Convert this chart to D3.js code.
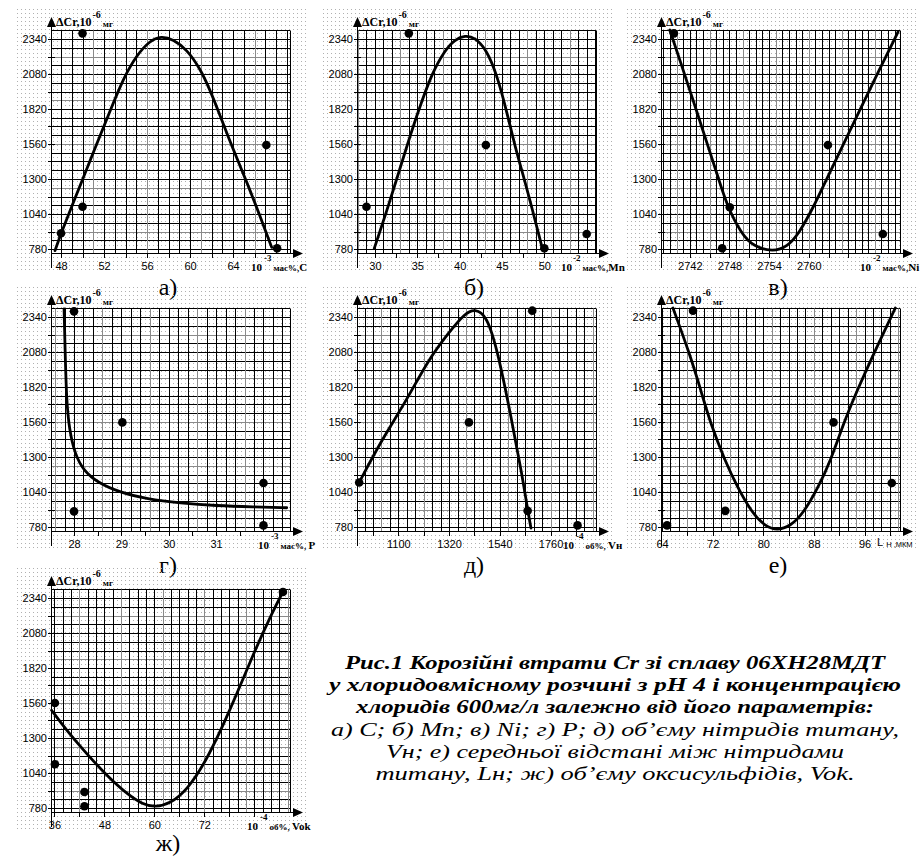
<!DOCTYPE html>
<html><head><meta charset="utf-8">
<script src="https://cdn.jsdelivr.net/npm/d3@7"></script>
<style>
body{margin:0;background:#fff} svg{display:block}
.serif{font-family:"Liberation Serif","Tinos","Times New Roman","Noto Serif","DejaVu Serif",serif}
.sans{font-family:"Liberation Sans","Arimo",Arial,"DejaVu Sans",sans-serif}
</style>
</head><body>
<svg id="c" width="920" height="857"></svg>
<script>
// ---- shared y axis ----
const yTicks = [780, 1040, 1300, 1560, 1820, 2080, 2340];
const yMinor = [910, 1170, 1430, 1690, 1950, 2210];
const yGridStep = 65;

// ---- а) C ----
const xTicksA = [48, 52, 56, 60, 64];
const xMinorA = [50, 54, 58, 62, 66];
const dotsAx = [48, 50, 50, 67.1, 68.1];
const dotsAy = [897, 1094, 2382, 1552, 785];
const curveA = [[47.44,768],[48.0,897],[49.92,1280],[51.22,1540],[52.56,1805],[53.8,2048],[55.04,2221],[56.28,2328],[57.3,2362],[58.45,2337],[59.69,2263],[60.93,2122],[61.86,1961],[62.63,1805],[64.03,1515],[65.27,1280],[66.51,1025],[67.6,792]];

// ---- б) Mn ----
const xTicksB = [30, 35, 40, 45, 50];
const xMinorB = [32.5, 37.5, 42.5, 47.5];
const dotsBx = [29, 34, 43.1, 50, 55];
const dotsBy = [1094, 2382, 1552, 785, 891];
const curveB = [[29.92,785],[31.57,1094],[33.74,1540],[35.12,1805],[36.69,2080],[38.27,2258],[39.45,2337],[40.63,2366],[41.81,2352],[43.19,2258],[44.37,2080],[45.55,1805],[46.54,1540],[47.72,1280],[48.5,1094],[49.76,785]];

// ---- в) Ni ----
const xTicksC = [2742, 2748, 2754, 2760];
const xMinorC = [2745, 2751, 2757, 2763, 2766];
const dotsCx = [2739.6, 2746.9, 2748.05, 2762.9, 2771.2];
const dotsCy = [2382, 785, 1090, 1552, 891];
const curveC = [[2738.97,2407],[2741.21,2080],[2743.03,1805],[2744.79,1540],[2746.5,1280],[2747.71,1094],[2749.78,896],[2751.65,797],[2754.6,760],[2756.76,797],[2758.52,896],[2760.74,1094],[2762.5,1280],[2765.07,1540],[2767.64,1805],[2770.36,2080],[2773.52,2394]];

// ---- г) P ----
const xTicksD = [28, 29, 30, 31];
const xMinorD = [28.5, 29.5, 30.5, 31.5];
const dotsDx = [28, 28, 29.02, 32, 32];
const dotsDy = [2382, 896, 1557, 1107, 792];
const curveD = [[27.79,2400],[27.81,2121],[27.84,1725],[27.9,1503],[28.02,1320],[28.2,1200],[28.5,1110],[28.97,1037],[29.54,988],[30.24,958],[31.01,938],[31.79,929],[32.49,923]];

// ---- д) Vн ----
const xTicksE = [1100, 1320, 1540, 1760];
const xMinorE = [990, 1210, 1430, 1650, 1870];
const dotsEx = [930, 1406, 1680.6, 1660.6, 1877];
const dotsEy = [1111, 1557, 2387, 900, 792];
const curveE = [[930,1111],[1028,1428],[1129,1701],[1230,2023],[1317,2221],[1389,2369],[1432,2400],[1483,2355],[1533,2072],[1591,1577],[1635,1181],[1663,884],[1675,772]];

// ---- е) Lн ----
const xTicksF = [64, 72, 80, 88, 96];
const xMinorF = [68, 76, 84, 92, 100];
const dotsFx = [64.8, 68.9, 74.0, 91.1, 100.3];
const dotsFy = [792, 2387, 900, 1557, 1107];
const curveF = [[65.73,2407],[68.37,2067],[70.16,1792],[71.63,1553],[74.0,1267],[75.85,1082],[78.22,884],[80.32,785],[82.17,755],[84.27,785],[86.38,884],[88.75,1082],[90.59,1267],[92.7,1553],[94.8,1792],[97.44,2067],[100.86,2407]];

// ---- ж) Vok ----
const xTicksG = [36, 48, 60, 72];
const xMinorG = [42, 54, 66, 78, 84];
const dotsGx = [36.1, 36.1, 43.2, 43.2, 90.9];
const dotsGy = [1560, 1105, 899, 793, 2385];
const curveG = [[35.3,1506],[38.9,1357],[43.7,1184],[48.5,1023],[53.3,887],[57.3,805],[60.2,787],[63.8,813],[67.8,911],[72.6,1134],[78.2,1506],[83.8,1927],[88.6,2249],[90.9,2385]];

const letters = ["а)", "б)", "в)", "г)", "д)", "е)", "ж)"];

const caption = [
  "Рис.1 Корозійні втрати Cr зі сплаву 06ХН28МДТ",
  "у хлоридовмісному розчині з pH 4 і концентрацією",
  "хлоридів 600мг/л залежно від його параметрів:"
];
const captionSub = [
  "а) C; б) Mn; в) Ni; г) P; д) об’єму нітридів титану,",
  "Vн; е) середньої відстані між нітридами",
  "титану, Lн; ж) об’єму оксисульфідів, Vok."
];
const captionWidths = [540, 572, 518, 568, 458, 479];

const panels = [
  {ox:0,   oy:0,   dom:[47.16,69.3],   step:1,     anchor:48,   ticks:xTicksA, minor:xMinorA, dx:dotsAx, dy:dotsAy, curve:curveA, unit:{pre:"10", sup:"-3", post:"мас%,", last:"C", x:251}},
  {ox:306, oy:0,   dom:[28.0,56.1],    step:1,     anchor:30,   ticks:xTicksB, minor:xMinorB, dx:dotsBx, dy:dotsBy, curve:curveB, unit:{pre:"10", sup:"-2", post:"мас%,", last:"Mn", x:255, supdx:1}},
  {ox:610, oy:0,   dom:[2737.8,2773.8],step:1,     anchor:2742, ticks:xTicksC, minor:xMinorC, dx:dotsCx, dy:dotsCy, curve:curveC, unit:{pre:"10", sup:"-2", post:"мас%,", last:"Ni", x:250}},
  {ox:0,   oy:278, dom:[27.535,32.56], step:0.2,   anchor:28,   ticks:xTicksD, minor:xMinorD, dx:dotsDx, dy:dotsDy, curve:curveD, unit:{pre:"10", sup:"-3", post:"мас%, ", last:"P", x:258}},
  {ox:306, oy:278, dom:[925,1957],     step:220/6, anchor:1100, ticks:xTicksE, minor:xMinorE, dx:dotsEx, dy:dotsEy, curve:curveE, unit:{pre:"10", sup:"-4", post:"об%, ", last:"Vн", x:257}},
  {ox:610, oy:278, dom:[64,101.6],     step:4/3,   anchor:64,   ticks:xTicksF, minor:xMinorF, dx:dotsFx, dy:dotsFy, curve:curveF, unit:null},
  {ox:0,   oy:559, dom:[35.4,92.6],    step:2,     anchor:36,   ticks:xTicksG, minor:xMinorG, dx:dotsGx, dy:dotsGy, curve:curveG, unit:{pre:"10", sup:"-4", post:"об%, ", last:"Vok", x:247}}
];

const svg = d3.select("#c");
svg.append("rect").attr("width",920).attr("height",857).attr("fill","#fff");
const defs = svg.append("defs");
const pat = defs.append("pattern").attr("id","dots").attr("width",4).attr("height",4)
  .attr("patternUnits","userSpaceOnUse");
pat.append("rect").attr("x",1).attr("y",1).attr("width",1).attr("height",1).attr("fill","#b0b0b0");

const crisp = v => Math.round(v) + 0.5;

panels.forEach((p, i) => {
  const g = svg.append("g").attr("transform", `translate(${p.ox},${p.oy})`);
  g.append("rect").attr("x",14).attr("y",9).attr("width",293).attr("height",264).attr("fill","url(#dots)");

  const x = d3.scaleLinear().domain(p.dom).range([52, 290]);
  const y = d3.scaleLinear().domain([780, 2340]).range([249, 39]);

  // horizontal grid
  const hVals = d3.range(0, 26).map(k => 780 + k * yGridStep);
  g.append("g").selectAll("line").data(hVals).join("line")
    .attr("x1", 52).attr("x2", 290)
    .attr("y1", d => crisp(y(d))).attr("y2", d => crisp(y(d)))
    .attr("stroke", (d, k) => (k % 5 === 2 ? "#8a8a8a" : "#000"))
    .attr("stroke-width", 1);

  // vertical grid
  const kMin = Math.ceil((p.dom[0] - p.anchor) / p.step - 1e-6);
  const kMax = Math.floor((p.dom[1] - p.anchor) / p.step + 1e-6);
  const vVals = d3.range(kMin, kMax + 1).map(k => ({v: p.anchor + k * p.step, k}));
  const top = crisp(y(780 + 25 * yGridStep));
  g.append("g").selectAll("line").data(vVals).join("line")
    .attr("x1", d => crisp(x(d.v))).attr("x2", d => crisp(x(d.v)))
    .attr("y1", top).attr("y2", 253)
    .attr("stroke", d => (((d.k % 5) + 5) % 5 === 3 ? "#8a8a8a" : "#000"))
    .attr("stroke-width", 1);
  g.append("line").attr("x1", 290.5).attr("x2", 290.5).attr("y1", top).attr("y2", 253).attr("stroke", "#000");

  // axes lines + arrows
  g.append("line").attr("x1", 51.5).attr("x2", 51.5).attr("y1", 24).attr("y2", 268).attr("stroke", "#000");
  g.append("line").attr("x1", 51).attr("x2", 296).attr("y1", 253.5).attr("y2", 253.5).attr("stroke", "#000");
  g.append("path").attr("d", "M51.5,17 L47,27 L56,27 Z").attr("fill", "#000");
  g.append("path").attr("d", "M303,253.5 L293,249 L293,258 Z").attr("fill", "#000");

  // y ticks
  g.append("g").selectAll("line").data(yTicks.concat(yMinor)).join("line")
    .attr("x1", 48).attr("x2", 55)
    .attr("y1", d => crisp(y(d))).attr("y2", d => crisp(y(d)))
    .attr("stroke", "#000");
  const ya = g.append("g").attr("transform", "translate(47,0)")
    .call(d3.axisLeft(y).tickValues(yTicks).tickSize(0).tickPadding(0).tickFormat(d3.format("d")));
  ya.select(".domain").remove();
  ya.attr("font-family", null);
  ya.selectAll("text").attr("class", "sans").attr("font-size", 11).attr("fill", "#000");

  // x ticks
  g.append("g").selectAll("line").data(p.ticks.concat(p.minor).filter(d => x(d) > 53 && x(d) < 292)).join("line")
    .attr("x1", d => crisp(x(d))).attr("x2", d => crisp(x(d)))
    .attr("y1", 253).attr("y2", 258)
    .attr("stroke", "#000");
  const xa = g.append("g").attr("transform", "translate(0,258)")
    .call(d3.axisBottom(x).tickValues(p.ticks).tickSize(0).tickPadding(4).tickFormat(d3.format("d")));
  xa.select(".domain").remove();
  xa.attr("font-family", null);
  xa.selectAll("text").attr("class", "sans").attr("font-size", 11).attr("fill", "#000");

  // y axis title
  const yt = g.append("text").attr("class", "serif").attr("x", 56).attr("y", 26).attr("font-weight", "bold").attr("fill", "#000");
  yt.append("tspan").attr("font-size", 12).text("ΔCr,10");
  yt.append("tspan").attr("font-size", 10).attr("dy", -8).attr("dx", 1).text("-6");
  yt.append("tspan").attr("font-size", 9).attr("dy", 9).attr("dx", 2).text("мг");

  // x axis title
  if (p.unit) {
    const u = p.unit;
    const xt = g.append("text").attr("class", "serif").attr("x", u.x).attr("y", 271).attr("font-weight", "bold").attr("fill", "#000");
    xt.append("tspan").attr("font-size", 11).text(u.pre);
    xt.append("tspan").attr("font-size", 9).attr("dy", -10).attr("dx", u.supdx || 2).text(u.sup);
    xt.append("tspan").attr("font-size", 9).attr("dy", 10).attr("dx", 2).text(u.post);
    xt.append("tspan").attr("font-size", 11).text(u.last);
  } else {
    const xt = g.append("text").attr("class", "sans").attr("x", 267).attr("y", 268).attr("fill", "#000");
    xt.append("tspan").attr("font-size", 11).text("L");
    xt.append("tspan").attr("font-size", 7.5).attr("dx", 3).attr("dy", 1).text("Н ,МКМ");
  }

  // curve
  g.append("path").datum(p.curve)
    .attr("d", d3.line().x(d => x(d[0])).y(d => y(d[1])).curve(d3.curveBasis))
    .attr("fill", "none").attr("stroke", "#000").attr("stroke-width", 2.8)
    .attr("stroke-linejoin", "round").attr("stroke-linecap", "round");

  // dots
  g.append("g").selectAll("circle").data(p.dx.map((v, k) => [v, p.dy[k]])).join("circle")
    .attr("cx", d => x(d[0])).attr("cy", d => y(d[1])).attr("r", 4.3).attr("fill", "#000");

  // panel letter
  g.append("text").attr("class", "serif").attr("x", 168).attr("y", i === 6 ? 292 : 295).attr("text-anchor", "middle")
    .attr("font-size", 24).attr("fill", "#000").text(letters[i]);
});

// caption
const cap = svg.append("g").attr("class", "serif").attr("fill", "#000").attr("text-anchor", "middle");
caption.concat(captionSub).forEach((t, k) => {
  const bold = k < 3;
  cap.append("text").attr("x", 615).attr("y", 669 + k * 22.2).attr("font-size", 19.5)
    .attr("font-weight", bold ? "bold" : "normal").attr("font-style", "italic")
    .attr("textLength", captionWidths[k]).attr("lengthAdjust", "spacingAndGlyphs")
    .text(t);
});
</script>
</body></html>
